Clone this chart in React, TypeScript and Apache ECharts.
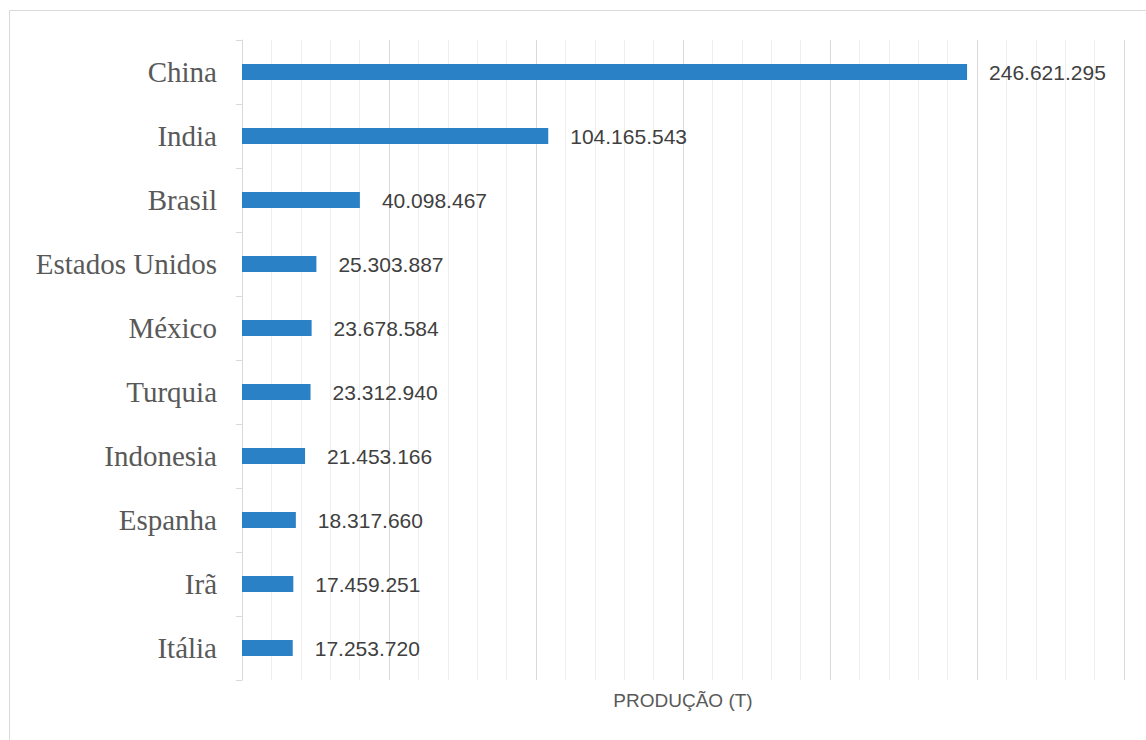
import React, { useEffect, useRef } from "react";
import * as echarts from "echarts";

const countries = ["China", "India", "Brasil", "Estados Unidos", "México", "Turquia", "Indonesia", "Espanha", "Irã", "Itália"];
const production = [246621295, 104165543, 40098467, 25303887, 23678584, 23312940, 21453166, 18317660, 17459251, 17253720];
const axisName = "PRODUÇÃO (T)";

function fmt(v: number): string {
  return String(Math.round(v)).replace(/\B(?=(\d{3})+(?!\d))/g, ".");
}

export default function App() {
  const ref = useRef<HTMLDivElement>(null);
  useEffect(() => {
    if (!ref.current) return;
    const chart = echarts.init(ref.current, null, { renderer: "svg" });
    chart.setOption({
      animation: false,
      backgroundColor: "#ffffff",
      graphic: [
        {
          type: "rect",
          shape: { x: 9.5, y: 10.5, width: 1160, height: 760 },
          style: { fill: "none", stroke: "#d9d9d9", lineWidth: 1 },
          silent: true,
        },
      ],
      grid: { left: 242, right: 22, top: 40, bottom: 60, containLabel: false },
      xAxis: {
        type: "value",
        min: 0,
        max: 300000000,
        interval: 50000000,
        name: axisName,
        nameLocation: "middle",
        nameGap: 11,
        nameTextStyle: { fontFamily: "Liberation Sans, Arial, sans-serif", fontSize: 19, color: "#595959", verticalAlign: "top" },
        axisLine: { show: false },
        axisTick: { show: false },
        axisLabel: { show: false },
        splitLine: { show: true, lineStyle: { color: "#d9d9d9", width: 1 } },
        minorTick: { show: false, splitNumber: 5 },
        minorSplitLine: { show: true, lineStyle: { color: "#eeeeee", width: 1 } },
      },
      yAxis: {
        type: "category",
        data: countries,
        inverse: true,
        axisLine: { show: true, lineStyle: { color: "#d9d9d9", width: 1 } },
        axisTick: { show: true, length: 6, lineStyle: { color: "#d9d9d9" } },
        axisLabel: {
          margin: 25,
          fontFamily: "Liberation Serif, Times New Roman, serif",
          fontSize: 29,
          color: "#595959",
        },
        splitLine: { show: false },
      },
      series: [
        {
          type: "bar",
          data: production,
          barWidth: 16,
          itemStyle: { color: "#2a81c6" },
          label: {
            show: true,
            position: "right",
            distance: 22,
            formatter: (p: any) => fmt(p.value),
            fontFamily: "Liberation Sans, Arial, sans-serif",
            fontSize: 21,
            color: "#404040",
          },
        },
      ],
    });
    return () => chart.dispose();
  }, []);
  return <div ref={ref} style={{ position: "fixed", left: 0, top: 0, width: 1146, height: 740 }} />;
}
